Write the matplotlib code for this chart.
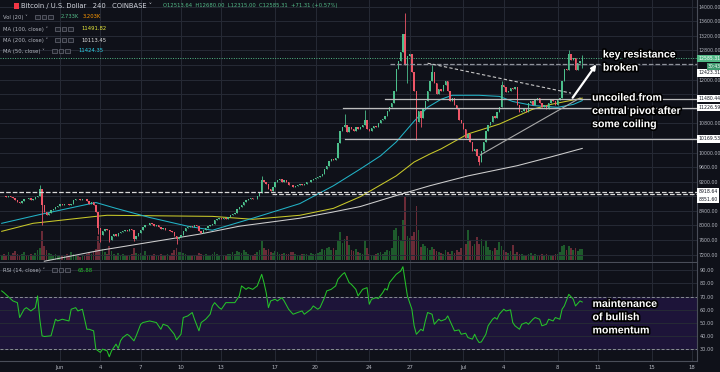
import numpy as np
import matplotlib
matplotlib.use("Agg")
import matplotlib.pyplot as plt
import matplotlib.patheffects as pe
from matplotlib.patches import Rectangle
from matplotlib.transforms import blended_transform_factory

# BTCUSD 4h candles on Coinbase, candle 0 = May 27 16:00
first_open = 8800
closes = [
    8820, 8800, 8780, 8800, 8790, 8750, 8700, 8640, 8620, 8680,
    8730, 8720, 8750, 8700, 8740, 8780, 8800, 8990, 8560, 8380,
    8300, 8330, 8420, 8450, 8500, 8540, 8580, 8560, 8600, 8580,
    8560, 8600, 8700, 8740, 8720, 8700, 8740, 8720, 8680, 8600,
    8640, 8560, 8360, 7920, 7750, 7850, 7900, 7880, 7600, 7700,
    7760, 7720, 7800, 7820, 7850, 7870, 7840, 7900, 7880, 7640,
    7700, 7800, 7880, 7950, 8010, 8000, 8060, 8040, 7990, 8000,
    7950, 7900, 7920, 7870, 7880, 7840, 7820, 7700, 7620, 7680,
    7750, 7850, 7920, 7960, 7990, 7970, 8000, 7980, 7850, 7800,
    7870, 7930, 7980, 8000, 8040, 8150, 8170, 8200, 8190, 8210,
    8180, 8230, 8280, 8320, 8350, 8440, 8500, 8560, 8640, 8700,
    8720, 8750, 8730, 8720, 8800, 8900, 9250, 9200, 9150, 9000,
    8950, 9050, 9200, 9250, 9280, 9200, 9260, 9180, 9120, 9100,
    9060, 9080, 9100, 9130, 9120, 9140, 9180, 9200, 9250, 9280,
    9300, 9320, 9350, 9400, 9550, 9620, 9780, 9820, 9800, 9850,
    10250, 10600, 10700, 10750, 10550, 10700, 10650, 10600, 10690, 10640,
    10700, 10760, 10880, 10650, 10600, 10680, 10720, 10700, 10800, 10900,
    10920, 11000, 11150, 11250, 11350, 11700, 12300, 12500, 12750, 13250,
    12400, 12650, 12700, 12200, 11700, 10850, 11150, 10950, 11200, 11400,
    11700, 11950, 12200, 11900, 11600, 11750, 11700, 11850, 11950, 11700,
    11400, 11500, 11300, 11200, 10900, 10800, 10650, 10400, 10500, 10300,
    10050, 10100, 9900, 9750, 10050, 10300, 10600, 10750, 10850, 11000,
    10950, 11100, 11250, 11850, 11800, 11650, 11700, 11780, 11750, 11800,
    11300, 11100, 11150, 11200, 11100, 11350, 11400, 11300, 11450, 11500,
    11350, 11250, 11300, 11200, 11350, 11450, 11400, 11300, 11450, 11500,
    11950, 12300, 12250, 12700, 12550, 12600, 12250, 12450, 12513.64, 12585.31,
]
# long wicks
hi_idx = [17, 116, 153, 162, 180, 192, 223, 253, 259]
hi_val = [9100, 9350, 11050, 11170, 13830, 12400, 11950, 12800, 12680]
lo_idx = [18, 43, 44, 48, 59, 78, 181, 185, 187, 213, 259]
lo_val = [8000, 7780, 7560, 7550, 7580, 7500, 11900, 10350, 10700, 9650, 12315]

volumes = [  # thousands of BTC
    1.2, 1.5, 1.0, 2.0, 1.3, 1.8, 2.2, 1.6, 1.1, 1.4,
    1.9, 1.2, 1.0, 1.6, 1.3, 1.7, 2.5, 3.0, 7.2, 3.5,
    2.6, 1.8, 1.5, 1.2, 1.4, 1.0, 1.3, 0.9, 1.1, 1.5,
    1.2, 1.9, 1.6, 1.0, 1.2, 0.8, 1.3, 1.1, 1.5, 1.7,
    1.4, 1.9, 2.8, 6.0, 4.3, 2.7, 1.9, 1.5, 3.6, 2.3,
    1.6, 1.3, 1.8, 1.1, 1.4, 1.0, 0.9, 1.2, 1.5, 2.9,
    1.8, 1.5, 1.7, 1.3, 2.2, 1.0, 1.2, 0.9, 1.4, 1.1,
    1.3, 1.6, 1.0, 1.2, 1.5, 1.1, 1.7, 2.4, 3.0, 1.9,
    2.0, 1.8, 1.4, 1.2, 1.0, 0.9, 1.1, 1.3, 1.8, 1.5,
    1.2, 1.4, 1.1, 1.0, 1.6, 2.1, 1.5, 1.3, 1.0, 1.2,
    1.1, 1.4, 1.6, 1.9, 1.5, 2.2, 2.0, 1.8, 2.4, 1.9,
    1.6, 1.3, 1.2, 1.5, 2.0, 2.6, 4.8, 3.0, 2.5, 2.8,
    2.0, 1.8, 2.2, 1.9, 1.6, 1.5, 1.8, 1.6, 1.4, 1.9,
    2.1, 1.5, 1.3, 1.2, 1.6, 1.4, 1.5, 1.3, 1.8, 1.6,
    1.4, 1.7, 1.9, 2.8, 2.5, 3.0, 3.2, 2.6, 2.9, 2.4,
    5.0, 7.0, 4.2, 5.2, 6.0, 3.8, 2.6, 2.2, 2.8, 2.0,
    1.8, 1.5, 5.0, 3.0, 1.6, 1.2, 1.0, 1.4, 1.8, 2.0,
    1.6, 2.0, 2.5, 2.2, 3.0, 7.5, 8.0, 6.0, 5.0, 10.0,
    16.0, 6.0, 5.5, 6.0, 7.0, 13.5, 7.5, 3.3, 4.0, 3.5,
    3.0, 2.5, 3.2, 2.8, 2.2, 2.0, 1.8, 1.5, 2.6, 2.0,
    1.6, 2.2, 1.8, 2.4, 2.0, 3.0, 2.6, 4.0, 7.5, 5.0,
    3.6, 4.0, 5.7, 4.0, 5.2, 3.5, 5.0, 3.2, 2.6, 2.2,
    3.0, 2.4, 4.5, 3.5, 2.6, 2.0, 1.8, 2.2, 3.7, 1.6,
    2.0, 1.6, 1.4, 1.2, 1.0, 1.5, 1.8, 1.1, 1.4, 1.3,
    1.2, 1.6, 1.0, 1.4, 1.1, 1.3, 1.2, 1.5, 1.6, 2.0,
    3.4, 3.7, 2.6, 3.6, 3.0, 2.4, 3.1, 2.2, 2.8, 2.733,
]
vol_ma = 3.203

# moving averages read at sample candles
ma50_idx = [0, 17, 42, 51, 66, 83, 94, 112, 133, 148, 160, 169, 176, 184, 190, 196, 201, 213, 222, 228, 237, 248, 255, 259]
ma50_val = [8060, 8300, 8630, 8470, 8220, 7980, 7870, 8200, 8600, 9090, 9550, 9910, 10290, 10860, 11240,
            11460, 11570, 11570, 11540, 11400, 11290, 11240, 11320, 11424.35]
ma100_idx = [0, 14, 42, 47, 94, 112, 133, 148, 160, 176, 184, 191, 196, 208, 222, 237, 245, 259]
ma100_val = [7840, 8060, 8250, 8280, 8250, 8170, 8280, 8470, 8790, 9360, 9740, 9960, 10100, 10510,
             10780, 11190, 11320, 11491.82]
ma200_idx = [19, 44, 66, 88, 106, 133, 147, 160, 176, 191, 208, 230, 245, 259]
ma200_val = [7020, 7320, 7540, 7760, 7980, 8200, 8360, 8520, 8820, 9090, 9360, 9640, 9880, 10113.45]

# RSI(14) read at sample candles
rsi_idx = [0, 1, 5, 7, 8, 10, 11, 13, 14, 15, 16, 17, 18, 19, 22, 24, 25, 27, 30, 31,
           33, 34, 36, 37, 38, 39, 41, 42, 44, 45, 47, 48, 49, 51, 52, 53, 54, 56, 57, 59,
           60, 62, 63, 66, 69, 71, 72, 74, 77, 78, 80, 81, 83, 85, 86, 88, 89, 91, 93, 94,
           95, 97, 98, 100, 103, 104, 106, 107, 109, 110, 112, 114, 116, 117, 118, 119, 120, 122, 123, 125,
           126, 128, 130, 132, 134, 135, 138, 139, 141, 142, 144, 145, 147, 149, 150, 152, 153, 155, 156, 158,
           159, 161, 163, 164, 165, 167, 168, 170, 171, 172, 173, 176, 178, 179, 181, 183, 184, 185, 187, 188,
           189, 190, 192, 193, 195, 196, 198, 199, 201, 202, 204, 205, 207, 208, 210, 211, 212, 213, 214, 216,
           217, 219, 220, 221, 222, 224, 225, 227, 228, 229, 231, 232, 234, 235, 237, 238, 240, 241, 243, 244,
           246, 247, 249, 250, 251, 253, 255, 256, 258, 259]
rsi_val = [74.3, 73.0, 66.7, 65.4, 54.1, 60.4, 61.6, 59.1, 60.4, 61.6, 70.5, 52.8, 40.2, 39.7, 40.2, 52.8, 51.5, 52.8, 51.5, 60.4,
           61.6, 59.1, 60.4, 52.8, 45.2, 45.2, 44.0, 30.1, 27.6, 30.1, 28.8, 24.3, 28.8, 33.9, 30.6, 36.4, 38.9, 41.4, 40.2, 36.4,
           40.2, 49.0, 50.3, 51.5, 50.3, 45.2, 49.0, 47.8, 41.4, 37.2, 41.4, 54.1, 55.3, 57.9, 52.8, 44.0, 50.3, 52.8, 56.6, 62.9,
           65.4, 61.6, 60.4, 65.4, 65.4, 65.4, 70.5, 78.1, 75.5, 76.8, 75.5, 78.1, 86.9, 80.6, 73.0, 61.6, 66.7, 68.0, 66.7, 69.2,
           66.7, 60.4, 56.6, 57.9, 59.1, 56.6, 60.4, 62.9, 60.4, 61.6, 69.2, 74.3, 75.5, 78.1, 83.1, 86.9, 88.2, 80.6, 79.3, 75.5,
           70.5, 75.5, 76.8, 64.2, 68.0, 69.2, 68.5, 73.0, 76.0, 75.0, 80.6, 86.9, 89.4, 92.7, 70.5, 60.4, 47.8, 41.4, 45.2, 44.0,
           51.5, 57.9, 56.6, 49.0, 52.8, 51.5, 52.8, 55.3, 47.8, 44.0, 44.7, 41.4, 42.2, 38.9, 37.7, 41.4, 37.7, 35.1, 35.6, 41.4,
           47.8, 52.8, 54.1, 52.8, 56.6, 60.4, 59.1, 59.9, 50.3, 47.8, 45.2, 49.0, 50.3, 49.0, 52.8, 54.1, 52.8, 47.8, 49.0, 52.8,
           51.5, 54.1, 52.8, 60.4, 62.9, 71.7, 68.0, 62.9, 66.7, 65.88]

date_idx = [26, 44, 62, 80, 98, 122, 140, 164, 182, 206, 224, 248, 266, 290, 308]
date_lbl = ["Jun", "4", "7", "10", "13", "17", "20", "24", "27", "Jul", "4", "8", "11", "15", "18"]

# drawn levels: price, label on the scale, first candle
level_price = [8918.64, 8851.60, 10372, 11226.59, 11480.44, 12423.31]
level_text = ["8918.64", "8851.60", "10169.53", "11226.59", "11480.44", "12423.31"]
level_start = [-1, 120.6, 153, 152.3, 171, 173.3]

BG = "#0f1119"
GRID = "#262a35"
TXT = "#b2b5be"
UP, DN = "#4cbf8c", "#ee5667"
VUP, VDN = "#1e5a2c", "#6a2b37"

W, H = 720, 372
fx = lambda px: px / W
fy = lambda py: 1 - py / H

fig = plt.figure(figsize=(7.2, 3.72), dpi=100)
fig.patch.set_facecolor(BG)

ax = fig.add_axes([0, fy(262), fx(697), 262 / H])
rax = fig.add_axes([0, fy(361), fx(697), (361 - 263) / H])
vax = ax.twinx()
vax.set_zorder(ax.get_zorder() - 1)
ax.patch.set_visible(False)
vax.patch.set_facecolor(BG)

xlim = (-0.76, 310.2)
idx = np.arange(len(closes))
c = np.array(closes, float)
o = np.concatenate([[first_open], c[:-1]])
hi = np.maximum(o, c)
lo = np.minimum(o, c)
hi[hi_idx] = np.maximum(hi[hi_idx], hi_val)
lo[lo_idx] = np.minimum(lo[lo_idx], lo_val)
up = c >= o
cols = np.where(up, UP, DN)

# volume
vax.bar(idx, volumes, width=0.75, color=np.where(up, VUP, VDN), linewidth=0)
vax.set_ylim(-0.5, 65)
vax.set_xlim(*xlim)
vax.axis("off")

# grid
for d in date_idx:
    ax.axvline(d, color=GRID, lw=0.7, zorder=0)
    rax.axvline(d, color=GRID, lw=0.7, zorder=0)
ticks = np.arange(7200, 14001, 400)
for t in ticks:
    ax.axhline(t, color=GRID, lw=0.7, zorder=0)

# moving averages
ax.plot(ma200_idx, ma200_val, color="#cfcfcf", lw=0.75, zorder=2)
ax.plot(ma100_idx, ma100_val, color="#c9c92a", lw=0.75, zorder=2)
ax.plot(ma50_idx, ma50_val, color="#22b3c6", lw=0.75, zorder=2)

# candles
ax.vlines(idx, lo, hi, colors=cols, lw=0.6, zorder=3)
ax.bar(idx, np.maximum(np.abs(c - o), 12), bottom=np.minimum(o, c),
       width=0.62, color=cols, linewidth=0, zorder=3)

# drawn levels and trendlines
styles = [("--", "#d8d8d8"), ("--", "#d8d8d8"), ("-", "#bdbdbd"), ("-", "#bdbdbd"), ("-", "#bdbdbd"), ("--", "#8f929b")]
for p, s, (ls, col) in zip(level_price, level_start, styles):
    ax.plot([s, xlim[1]], [p, p], ls=ls, color=col, lw=0.9, zorder=4)
ax.plot([190, 254], [12450, 11630], ls=(0, (3, 2)), color="#c8c8c8", lw=0.8, zorder=4)
ax.plot([213.5, 258], [9933, 11496], color="#a8a8a8", lw=0.8, zorder=4)
ax.axhline(closes[-1], color="#53b987", ls=(0, (1, 1.5)), lw=0.7, zorder=4)

ax.set_xlim(*xlim)
ax.set_ylim(6999, 14183)
ax.yaxis.tick_right()
hidden = {12400, 11600, 11200, 10400, 8800}
ax.set_yticks(ticks)
ax.set_yticklabels(["" if t in hidden else f"{t:.2f}" for t in ticks])
ax.tick_params(axis="y", length=0, pad=1.3, labelsize=3.45, labelcolor=TXT)
ax.set_xticks([])
for sp in ["top", "left"]:
    ax.spines[sp].set_visible(False)
ax.spines["right"].set_color("#4a4e59")
ax.spines["bottom"].set_color("#4a4e59")
ax.spines["right"].set_linewidth(0.8)
ax.spines["bottom"].set_linewidth(0.8)

# scale labels for the levels
bt = blended_transform_factory(ax.transAxes, ax.transData)
offs = [0, -3.6, 0, 0, 0, -6.3]
for p, t, dy in zip(level_price, level_text, offs):
    ax.annotate(t, xy=(1, p), xycoords=bt, xytext=(1.0, dy), textcoords="offset points",
                fontsize=3.3, color="#131722", va="center", ha="left", annotation_clip=False,
                bbox=dict(boxstyle="square,pad=0.25", fc="white", ec="none"), zorder=10)
ax.annotate(f"{closes[-1]:.2f}", xy=(1, closes[-1]), xycoords=bt, xytext=(1.0, 0), textcoords="offset points",
            fontsize=3.3, color="white", va="center", ha="left", annotation_clip=False,
            bbox=dict(boxstyle="square,pad=0.25", fc="#53b987", ec="none"), zorder=11)
ax.annotate("30:43", xy=(1, closes[-1]), xycoords=bt, xytext=(8, -6.0), textcoords="offset points",
            fontsize=3.3, color="white", va="center", ha="left", annotation_clip=False,
            bbox=dict(boxstyle="square,pad=0.25", fc="#3e9a6e", ec="none"), zorder=11)

# RSI pane
rax.axhspan(30, 70, color="#1d1439", zorder=0)
for t in range(30, 91, 10):
    rax.axhline(t, color=GRID, lw=0.7, zorder=1)
rax.axhline(70, color="#8a8d96", ls=(0, (3, 2)), lw=0.7, zorder=2)
rax.axhline(30, color="#8a8d96", ls=(0, (3, 2)), lw=0.7, zorder=2)
rax.plot(rsi_idx, rsi_val, color="#25c22a", lw=0.75, zorder=3)
rax.set_xlim(*xlim)
rax.set_ylim(21.1, 95.5)
rax.set_facecolor(BG)
rax.yaxis.tick_right()
rax.set_yticks(range(30, 91, 10))
rax.set_yticklabels([f"{t:.2f}" for t in range(30, 91, 10)])
rax.tick_params(axis="y", length=0, pad=1.8, labelsize=3.6, labelcolor=TXT)
rax.set_xticks(date_idx)
rax.set_xticklabels(date_lbl)
rax.tick_params(axis="x", length=0, pad=2.6, labelsize=3.9, labelcolor=TXT)
for sp in ["top", "left"]:
    rax.spines[sp].set_visible(False)
for sp in ["right", "bottom"]:
    rax.spines[sp].set_color("#4a4e59")
    rax.spines[sp].set_linewidth(0.8)

# commentary
stroke = [pe.withStroke(linewidth=2.4, foreground="black")]
note = dict(fontsize=7.6, fontweight="bold", color="white", family="Liberation Sans",
            va="top", ha="left", linespacing=1.4, path_effects=stroke, clip_on=False, zorder=12)
ax.text(268.2, 12825, "key resistance\nbroken", **note)
ax.text(263.4, 11640, "uncoiled from\ncentral pivot after\nsome coiling", **note)
rax.text(263.6, 68.2, "maintenance\nof bullish\nmomentum", **note)
ax.annotate("", xy=(266, 12480), xytext=(254, 11440),
            arrowprops=dict(arrowstyle="-|>", color="white", lw=1.6, mutation_scale=7), zorder=12)

# header and legends
small = dict(fontsize=3.8, va="center", ha="left")
fig.add_artist(Rectangle((fx(14), fy(9)), fx(5), 6 / H, transform=fig.transFigure, fc="#f23645", ec="none"))
fig.text(fx(21), fy(6), "Bitcoin / U.S. Dollar   240   COINBASE \u02c5", fontsize=4.9, color="#d1d4dc", va="center")
fig.text(fx(163), fy(6), "O12513.64  H12680.00  L12315.00  C12585.31  +71.31 (+0.57%)", color="#53b987", **small)


def icons(x0, y):
    for k in range(3):
        fig.add_artist(Rectangle((fx(x0 + 6.5 * k), fy(y + 2.3)), fx(4.6), 4.6 / H, transform=fig.transFigure,
                                 fc="#1b1e27", ec="#6a6d78", lw=0.5))


rows = [
    (17, "Vol (20) \u02c5", 35, [(f"{volumes[-1]:.3f}K", "#53b987", 61), (f"{vol_ma:.3f}K", "#ff9800", 83)]),
    (29, "MA (100, close) \u02c5", 55, [(f"{ma100_val[-1]:.2f}", "#e8e83a", 81)]),
    (40, "MA (200, close) \u02c5", 55, [(f"{ma200_val[-1]:.2f}", "#e0e0e0", 81)]),
    (51, "MA (50, close) \u02c5", 52, [(f"{ma50_val[-1]:.2f}", "#2ad0e6", 78)]),
    (270, "RSI (14, close) \u02c5", 52, [(f"{rsi_val[-1]:.2f}", "#25c22a", 78)]),
]
for y, lab, ix, vals in rows:
    fig.text(fx(3), fy(y), lab, color=TXT, **small)
    icons(ix, y)
    for v, col, vx in vals:
        fig.text(fx(vx), fy(y), v, color=col, **small)

fig.savefig("out.png", dpi=100, facecolor=BG)
